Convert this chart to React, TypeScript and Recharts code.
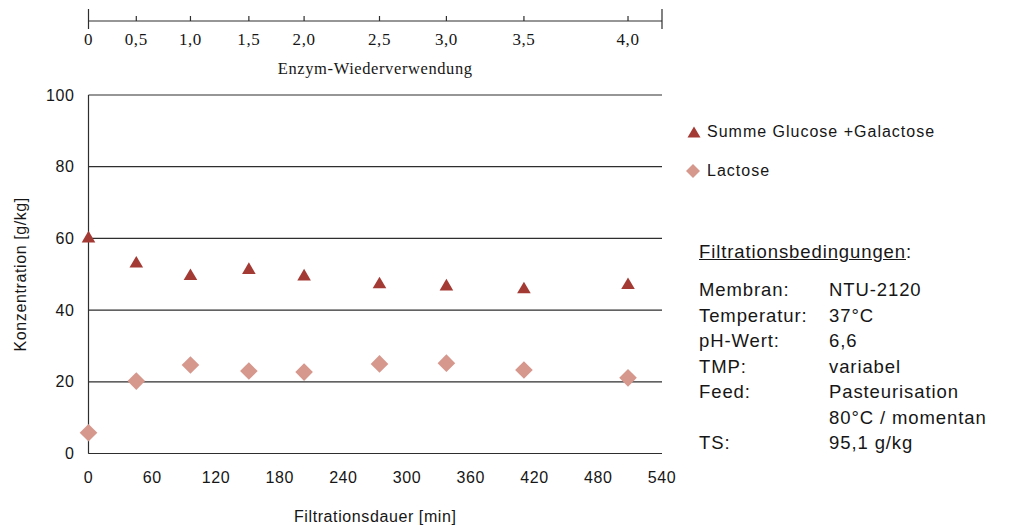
import { ComposedChart, Scatter, XAxis, YAxis, CartesianGrid } from 'recharts'

// sample times [min]; the upper axis labels the same points
const filtrationTimes = [0, 45, 96, 151, 203, 274, 337, 410, 508]
const reuseLabels = ['0', '0,5', '1,0', '1,5', '2,0', '2,5', '3,0', '3,5', '4,0']

const sumGlucoseGalactose = [60.5, 53.5, 50.0, 51.7, 49.9, 47.7, 47.1, 46.3, 47.5]
const lactose = [5.8, 20.2, 24.7, 23.0, 22.7, 25.0, 25.2, 23.3, 21.1]

const xTicks = [0, 60, 120, 180, 240, 300, 360, 420, 480, 540]
const yTicks = [0, 20, 40, 60, 80, 100]
const topTicks = [...filtrationTimes, 540]

const seriesNames = ['Summe Glucose +Galactose', 'Lactose']
const conditionsTitle = 'Filtrationsbedingungen'
const conditions = [
  ['Membran:', 'NTU-2120'],
  ['Temperatur:', '37°C'],
  ['pH-Wert:', '6,6'],
  ['TMP:', 'variabel'],
  ['Feed:', 'Pasteurisation'],
  ['', '80°C / momentan'],
  ['TS:', '95,1 g/kg'],
]

const RED = '#a33a34'
const PINK = '#d6978d'
const INK = '#161616'
const LINE = '#2e2e2e'
const SANS = '"Liberation Sans", Arial, sans-serif'
const SERIF = '"Liberation Serif", "Times New Roman", serif'

const sumData = filtrationTimes.map((t, i) => ({ t, v: sumGlucoseGalactose[i] }))
const lactoseData = filtrationTimes.map((t, i) => ({ t, v: lactose[i] }))

const TOP_AXIS_Y = 21

const Triangle = ({ cx, cy }: any) => (
  <path d={`M${cx},${cy - 5.8}L${cx + 6.8},${cy + 5.8}L${cx - 6.8},${cy + 5.8}Z`} fill={RED} />
)

const Diamond = ({ cx, cy }: any) => (
  <path d={`M${cx},${cy - 8.8}L${cx + 8.8},${cy}L${cx},${cy + 8.8}L${cx - 8.8},${cy}Z`} fill={PINK} />
)

function ReuseTick({ x, payload }: any) {
  const i = filtrationTimes.indexOf(payload.value)
  const isEnd = payload.value === 0 || payload.value === 540
  return (
    <g>
      <line
        x1={x}
        x2={x}
        y1={TOP_AXIS_Y - (isEnd ? 12 : 5)}
        y2={TOP_AXIS_Y + (isEnd ? 8 : 0)}
        stroke={LINE}
        strokeWidth={1.2}
      />
      {i >= 0 && (
        <text x={x} y={TOP_AXIS_Y + 24} textAnchor="middle" fontFamily={SERIF} fontSize={17} fill={INK}>
          {reuseLabels[i]}
        </text>
      )}
    </g>
  )
}

export default function App() {
  return (
    <div
      style={{
        position: 'absolute',
        left: 0,
        top: 0,
        width: 1017,
        height: 525,
        background: '#fff',
        fontFamily: SANS,
        letterSpacing: 0.6,
        color: INK,
      }}
    >
      <div style={{ position: 'absolute', left: 0, top: 0 }}>
        <ComposedChart width={1017} height={525} margin={{ top: 95, right: 355, bottom: 0, left: 0 }}>
          <CartesianGrid vertical={false} stroke={LINE} strokeWidth={1.2} />
          <XAxis
            type="number"
            dataKey="t"
            domain={[0, 540]}
            ticks={xTicks}
            height={71.5}
            tickLine={false}
            tickSize={0}
            tickMargin={18}
            axisLine={{ stroke: LINE, strokeWidth: 1.2 }}
            tick={{ fill: INK, fontSize: 16 }}
            label={{ value: 'Filtrationsdauer [min]', position: 'insideBottom', offset: 3, fill: INK, fontSize: 16 }}
          />
          <YAxis
            type="number"
            dataKey="v"
            domain={[0, 100]}
            ticks={yTicks}
            width={88.5}
            tickLine={false}
            tickSize={0}
            tickMargin={14}
            axisLine={{ stroke: LINE, strokeWidth: 1.2 }}
            tick={{ fill: INK, fontSize: 16 }}
            label={{
              value: 'Konzentration [g/kg]',
              angle: -90,
              position: 'insideLeft',
              offset: 20,
              fill: INK,
              fontSize: 16,
              style: { textAnchor: 'middle' },
            }}
          />
          <YAxis
            yAxisId="r"
            orientation="right"
            type="number"
            domain={[0, 100]}
            ticks={yTicks}
            width={0}
            tick={false}
            tickLine={false}
            axisLine={{ stroke: LINE, strokeWidth: 1.2 }}
          />
          <Scatter name={seriesNames[1]} data={lactoseData} shape={Diamond} isAnimationActive={false} />
          <Scatter name={seriesNames[0]} data={sumData} shape={Triangle} isAnimationActive={false} />
        </ComposedChart>
      </div>

      {/* upper axis: enzyme reuse cycles */}
      <div style={{ position: 'absolute', left: 0, top: 0 }}>
        <ComposedChart width={1017} height={95} margin={{ top: 0, right: 355, bottom: 0, left: 88.5 }}>
          <XAxis
            type="number"
            dataKey="t"
            domain={[0, 540]}
            ticks={topTicks}
            height={95 - TOP_AXIS_Y}
            tickLine={false}
            axisLine={{ stroke: LINE, strokeWidth: 1.2 }}
            tick={<ReuseTick />}
            interval={0}
            label={{
              value: 'Enzym-Wiederverwendung',
              position: 'insideBottom',
              offset: 21,
              fill: INK,
              fontSize: 16.5,
              fontFamily: SERIF,
            }}
          />
          <YAxis hide domain={[0, 100]} dataKey="v" />
          <Scatter data={sumData} shape={() => <g />} isAnimationActive={false} />
        </ComposedChart>
      </div>

      {/* legend */}
      <div style={{ position: 'absolute', left: 686, top: 122, fontSize: 16, lineHeight: '20px', letterSpacing: 1 }}>
        <div style={{ display: 'flex', alignItems: 'center', height: 20 }}>
          <svg width={16} height={14} style={{ marginRight: 5 }}>
            <path d="M8,1.5L14.5,12.5L1.5,12.5Z" fill={RED} />
          </svg>
          {seriesNames[0]}
        </div>
        <div style={{ display: 'flex', alignItems: 'center', height: 20, marginTop: 19 }}>
          <svg width={16} height={16} style={{ marginRight: 5 }}>
            <path d="M7,1L14,8L7,15L0,8Z" fill={PINK} />
          </svg>
          {seriesNames[1]}
        </div>
      </div>

      {/* filtration conditions */}
      <div style={{ position: 'absolute', left: 699, top: 239, fontSize: 18.5, lineHeight: '25.5px', letterSpacing: 0.9 }}>
        <div>
          <span style={{ textDecoration: 'underline' }}>{conditionsTitle}</span>:
        </div>
        <div style={{ height: 12.5 }} />
        {conditions.map(([k, v], i) => (
          <div key={i} style={{ display: 'flex' }}>
            <span style={{ width: 130 }}>{k}</span>
            <span>{v}</span>
          </div>
        ))}
      </div>
    </div>
  )
}
